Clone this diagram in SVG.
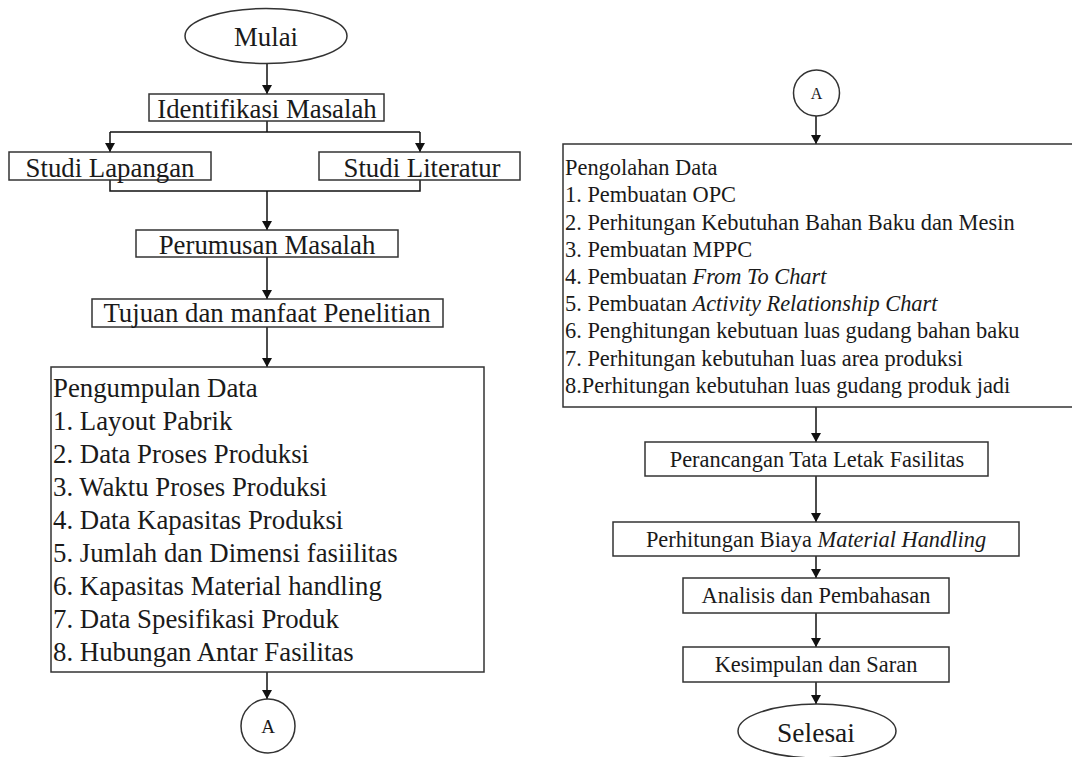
<svg xmlns="http://www.w3.org/2000/svg" width="1072" height="757" viewBox="0 0 1072 757">
<defs>
<marker id="ah" viewBox="0 0 9 10" refX="9" refY="5" markerWidth="9" markerHeight="10" markerUnits="userSpaceOnUse" orient="auto">
<path d="M0,0 L9,5 L0,10 z" fill="#111"/>
</marker>
<style>
.box{fill:#fff;stroke:#333;stroke-width:1.5}
.t{fill:#1a1a1a}
.big{font-size:26.8px}
.mid{font-size:22.4px}
.c{text-anchor:middle}
.con{fill:none;stroke:#111;stroke-width:1.5}
</style>
</defs>
<rect width="1072" height="757" fill="#fff"/>
<g id="connectors">
<path class="con" d="M267,63 V94" marker-end="url(#ah)"/>
<path class="con" d="M267,121 V132 M110,132 H420"/>
<path class="con" d="M110,132 V152" marker-end="url(#ah)"/>
<path class="con" d="M420,132 V152" marker-end="url(#ah)"/>
<path class="con" d="M110,180 V191 H420 V180"/>
<path class="con" d="M267,191 V230" marker-end="url(#ah)"/>
<path class="con" d="M267,257 V299" marker-end="url(#ah)"/>
<path class="con" d="M267,327 V367" marker-end="url(#ah)"/>
<path class="con" d="M267,672 V699" marker-end="url(#ah)"/>
<path class="con" d="M816,116 V144" marker-end="url(#ah)"/>
<path class="con" d="M816,407 V442" marker-end="url(#ah)"/>
<path class="con" d="M816,476 V522" marker-end="url(#ah)"/>
<path class="con" d="M816,556 V578" marker-end="url(#ah)"/>
<path class="con" d="M816,613 V647" marker-end="url(#ah)"/>
<path class="con" d="M816,682 V704" marker-end="url(#ah)"/>
</g>
<g font-family="'Liberation Serif', 'Tinos', 'Times New Roman', 'DejaVu Serif', serif">
<g id="mulai">
<ellipse class="box" cx="266" cy="36" rx="81" ry="27.5"/>
<text class="t big c" x="266" y="46">Mulai</text>
</g>
<g id="identifikasi">
<rect class="box" x="149" y="94" width="235" height="27"/>
<text class="t big c" x="267" y="118">Identifikasi Masalah</text>
</g>
<g id="studi-lapangan">
<rect class="box" x="9" y="152" width="202" height="28"/>
<text class="t big c" x="110" y="177">Studi Lapangan</text>
</g>
<g id="studi-literatur">
<rect class="box" x="319" y="152" width="201" height="28"/>
<text class="t big c" x="422" y="177">Studi Literatur</text>
</g>
<g id="perumusan">
<rect class="box" x="136" y="230" width="262" height="27"/>
<text class="t big c" x="267" y="254">Perumusan Masalah</text>
</g>
<g id="tujuan">
<rect class="box" x="92" y="299" width="351" height="28"/>
<text class="t big c" x="267" y="322">Tujuan dan manfaat Penelitian</text>
</g>
<g id="pengumpulan">
<rect class="box" x="51" y="367" width="433" height="305"/>
<text class="t big" x="53" y="397">Pengumpulan Data</text>
<text class="t big" x="53" y="430">1. Layout Pabrik</text>
<text class="t big" x="53" y="463">2. Data Proses Produksi</text>
<text class="t big" x="53" y="496">3. Waktu Proses Produksi</text>
<text class="t big" x="53" y="529">4. Data Kapasitas Produksi</text>
<text class="t big" x="53" y="562">5. Jumlah dan Dimensi fasiilitas</text>
<text class="t big" x="53" y="595">6. Kapasitas Material handling</text>
<text class="t big" x="53" y="628">7. Data Spesifikasi Produk</text>
<text class="t big" x="53" y="661">8. Hubungan Antar Fasilitas</text>
</g>
<g id="connector-a-left">
<circle class="box" cx="268" cy="726" r="27"/>
<text class="t c" font-size="19" x="268" y="733">A</text>
</g>
<g id="connector-a-right">
<circle class="box" cx="816.5" cy="93" r="23"/>
<text class="t c" font-size="16" x="816.5" y="99">A</text>
</g>
<g id="pengolahan">
<path class="box" d="M1075,144 H563 V407 H1075"/>
<text class="t mid" x="565" y="175">Pengolahan Data</text>
<text class="t mid" x="565" y="202">1. Pembuatan OPC</text>
<text class="t mid" x="565" y="230">2. Perhitungan Kebutuhan Bahan Baku dan Mesin</text>
<text class="t mid" x="565" y="257">3. Pembuatan MPPC</text>
<text class="t mid" x="565" y="284">4. Pembuatan <tspan font-style="italic">From To Chart</tspan></text>
<text class="t mid" x="565" y="311">5. Pembuatan <tspan font-style="italic">Activity Relationship Chart</tspan></text>
<text class="t mid" x="565" y="338">6. Penghitungan kebutuan luas gudang bahan baku</text>
<text class="t mid" x="565" y="366">7. Perhitungan kebutuhan luas area produksi</text>
<text class="t mid" x="565" y="393">8.Perhitungan kebutuhan luas gudang produk jadi</text>
</g>
<g id="perancangan">
<rect class="box" x="645" y="442" width="343" height="34"/>
<text class="t mid c" x="817" y="467">Perancangan Tata Letak Fasilitas</text>
</g>
<g id="biaya">
<rect class="box" x="613" y="522" width="406" height="34"/>
<text class="t mid c" x="816" y="547">Perhitungan Biaya <tspan font-style="italic">Material Handling</tspan></text>
</g>
<g id="analisis">
<rect class="box" x="683" y="578" width="266" height="35"/>
<text class="t mid c" x="816" y="603">Analisis dan Pembahasan</text>
</g>
<g id="kesimpulan">
<rect class="box" x="683" y="647" width="266" height="35"/>
<text class="t mid c" x="816" y="672">Kesimpulan dan Saran</text>
</g>
<g id="selesai">
<ellipse class="box" cx="817" cy="731" rx="79" ry="27"/>
<text class="t c" font-size="27.5" x="816" y="742">Selesai</text>
</g>
</g>
</svg>
